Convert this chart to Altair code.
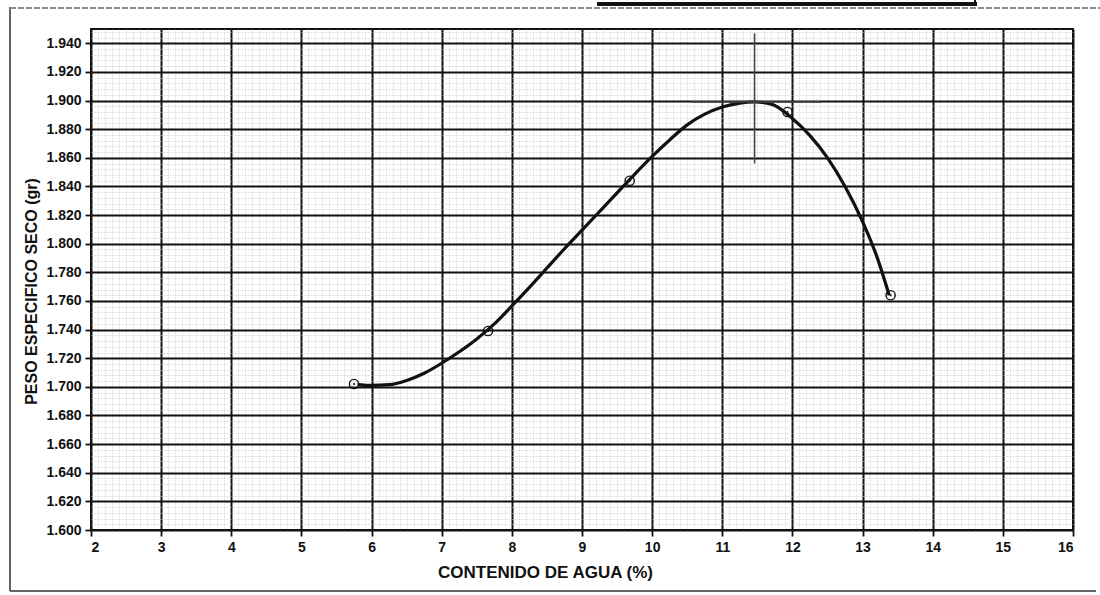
import altair as alt
import numpy as np
import pandas as pd

# Measured points (water content %, dry unit weight)
pts_x = [5.75, 7.66, 9.68, 11.93, 13.40]
pts_y = [1.702, 1.739, 1.844, 1.892, 1.764]

# Hand-drawn compaction curve
curve_x = [5.80, 6.00, 6.25, 6.50, 6.75, 7.00, 7.25, 7.50, 7.75, 8.00, 8.25,
           8.50, 8.75, 9.00, 9.25, 9.50, 9.75, 10.00, 10.25, 10.50, 10.75,
           11.00, 11.25, 11.46, 11.70, 12.00, 12.25, 12.50, 12.75, 13.00,
           13.20, 13.38]
curve_y = [1.7016, 1.7010, 1.7015, 1.7045, 1.7095, 1.7165, 1.7245, 1.7335,
           1.7440, 1.7565, 1.7695, 1.7830, 1.7965, 1.8095, 1.8225, 1.8355,
           1.8485, 1.8610, 1.8725, 1.8830, 1.8905, 1.8955, 1.8982, 1.8990,
           1.8975, 1.8875, 1.8755, 1.8600, 1.8400, 1.8155, 1.7915, 1.7640]

# Optimum crosshair (max dry density / optimum moisture)
cross_h_x = [10.56, 12.41]
cross_h_y = [1.899, 1.899]
cross_v_x = [11.46, 11.46]
cross_v_y = [1.947, 1.856]

# Tick labels
x_ticks = [2, 3, 4, 5, 6, 7, 8, 9, 10, 11, 12, 13, 14, 15, 16]
y_ticks = [1.600, 1.620, 1.640, 1.660, 1.680, 1.700, 1.720, 1.740, 1.760,
           1.780, 1.800, 1.820, 1.840, 1.860, 1.880, 1.900, 1.920, 1.940]
x_minor = [round(v, 2) for v in np.arange(2.0, 16.001, 0.1)]
y_minor = [round(v, 3) for v in np.arange(1.600, 1.9501, 0.004)]

FONT = "Liberation Sans"
W, H = 982, 501
PAD_L, PAD_T = 91, 29

df_pts = pd.DataFrame({"w": pts_x, "d": pts_y})
df_curve = pd.DataFrame({"w": curve_x, "d": curve_y})
df_h = pd.DataFrame({"w": cross_h_x, "d": cross_h_y})
df_v = pd.DataFrame({"w": cross_v_x, "d": cross_v_y})

xscale = alt.Scale(domain=[2, 16], nice=False, zero=False)
yscale = alt.Scale(domain=[1.600, 1.950], nice=False, zero=False)

minor = alt.Chart(df_pts).mark_point(opacity=0).encode(
    x=alt.X("w:Q", scale=xscale, axis=alt.Axis(
        values=x_minor, grid=True, gridColor="#cdcdcd", gridWidth=0.6,
        gridDash=[2, 1], labels=False, ticks=False, domain=False, title=None,
        orient="bottom")),
    y=alt.Y("d:Q", scale=yscale, axis=alt.Axis(
        values=y_minor, grid=True, gridColor="#cdcdcd", gridWidth=0.6,
        gridDash=[2, 1], labels=False, ticks=False, domain=False, title=None,
        orient="left")),
)

major = alt.Chart(df_pts).mark_point(opacity=0).encode(
    x=alt.X("w:Q", scale=xscale, axis=alt.Axis(
        values=x_ticks, grid=True, gridColor="#111111", gridWidth=2,
        domain=False, ticks=True, tickColor="#111111", tickWidth=1.8, tickSize=6,
        labelPadding=4, labelFont=FONT, labelFontSize=14, labelFontWeight="bold",
        labelColor="#111111", format="d",
        title="CONTENIDO DE AGUA (%)", titleFont=FONT, titleFontSize=17,
        titleFontWeight="bold", titleColor="#111111",
        titleX=454, titleY=47, titleBaseline="alphabetic", titleAlign="center",
        orient="bottom")),
    y=alt.Y("d:Q", scale=yscale, axis=alt.Axis(
        values=y_ticks, grid=True, gridColor="#111111", gridWidth=2,
        domain=False, ticks=True, tickColor="#111111", tickWidth=1.8, tickSize=6,
        labelPadding=4, labelFont=FONT, labelFontSize=14, labelFontWeight="bold",
        labelColor="#111111", format=".3f",
        title="PESO ESPECIFICO SECO (gr)", titleFont=FONT, titleFontSize=16,
        titleFontWeight="bold", titleColor="#111111",
        titleX=-55, titleY=262, titleBaseline="alphabetic", titleAlign="center",
        titleAngle=270, orient="left")),
)

curve = alt.Chart(df_curve).mark_line(
    color="#111111", strokeWidth=3.2, interpolate="monotone").encode(
    x=alt.X("w:Q", scale=xscale, axis=None),
    y=alt.Y("d:Q", scale=yscale, axis=None),
)

hline = alt.Chart(df_h).mark_line(color="#444444", strokeWidth=1.6).encode(
    x=alt.X("w:Q", scale=xscale, axis=None),
    y=alt.Y("d:Q", scale=yscale, axis=None),
)
vline = alt.Chart(df_v).mark_line(color="#444444", strokeWidth=1.6).encode(
    x=alt.X("w:Q", scale=xscale, axis=None),
    y=alt.Y("d:Q", scale=yscale, axis=None),
)

points = alt.Chart(df_pts).mark_point(
    shape="circle", size=85, filled=False, color="#111111", strokeWidth=1.4,
    opacity=1).encode(
    x=alt.X("w:Q", scale=xscale, axis=None),
    y=alt.Y("d:Q", scale=yscale, axis=None),
)
dots = alt.Chart(df_pts).mark_point(
    shape="circle", size=4, filled=True, color="#111111", opacity=1).encode(
    x=alt.X("w:Q", scale=xscale, axis=None),
    y=alt.Y("d:Q", scale=yscale, axis=None),
)

# Scanned page frame (decoration around the chart)
frame_left = alt.Chart(df_pts).mark_rule(color="#666666", strokeWidth=1.5).encode(
    x=alt.value(-81), y=alt.value(-22), y2=alt.value(562))
frame_bottom = alt.Chart(df_pts).mark_rule(color="#666666", strokeWidth=1.5).encode(
    x=alt.value(-81), x2=alt.value(1005), y=alt.value(562))
frame_top = alt.Chart(df_pts).mark_rule(color="#888888", strokeWidth=1.2,
                                        strokeDash=[6, 2]).encode(
    x=alt.value(-81), x2=alt.value(1009), y=alt.value(-21))
box_top = alt.Chart(df_pts).mark_rule(color="#111111", strokeWidth=3).encode(
    x=alt.value(506), x2=alt.value(886), y=alt.value(-25))
box_right = alt.Chart(df_pts).mark_rule(color="#111111", strokeWidth=2).encode(
    x=alt.value(884), y=alt.value(-30), y2=alt.value(-23))

chart = alt.layer(
    minor, major, curve, hline, vline, points, dots,
    frame_left, frame_bottom, frame_top, box_top, box_right
).resolve_axis(x="independent", y="independent").properties(
    width=W, height=H,
    autosize=alt.AutoSizeParams(type="none"),
    padding={"left": PAD_L, "top": PAD_T, "right": 1100 - PAD_L - W,
             "bottom": 595 - PAD_T - H},
    background="white",
).configure_view(stroke="#111111", strokeWidth=2)

chart.save("out.html", embed_options={"renderer": "svg", "actions": False})
